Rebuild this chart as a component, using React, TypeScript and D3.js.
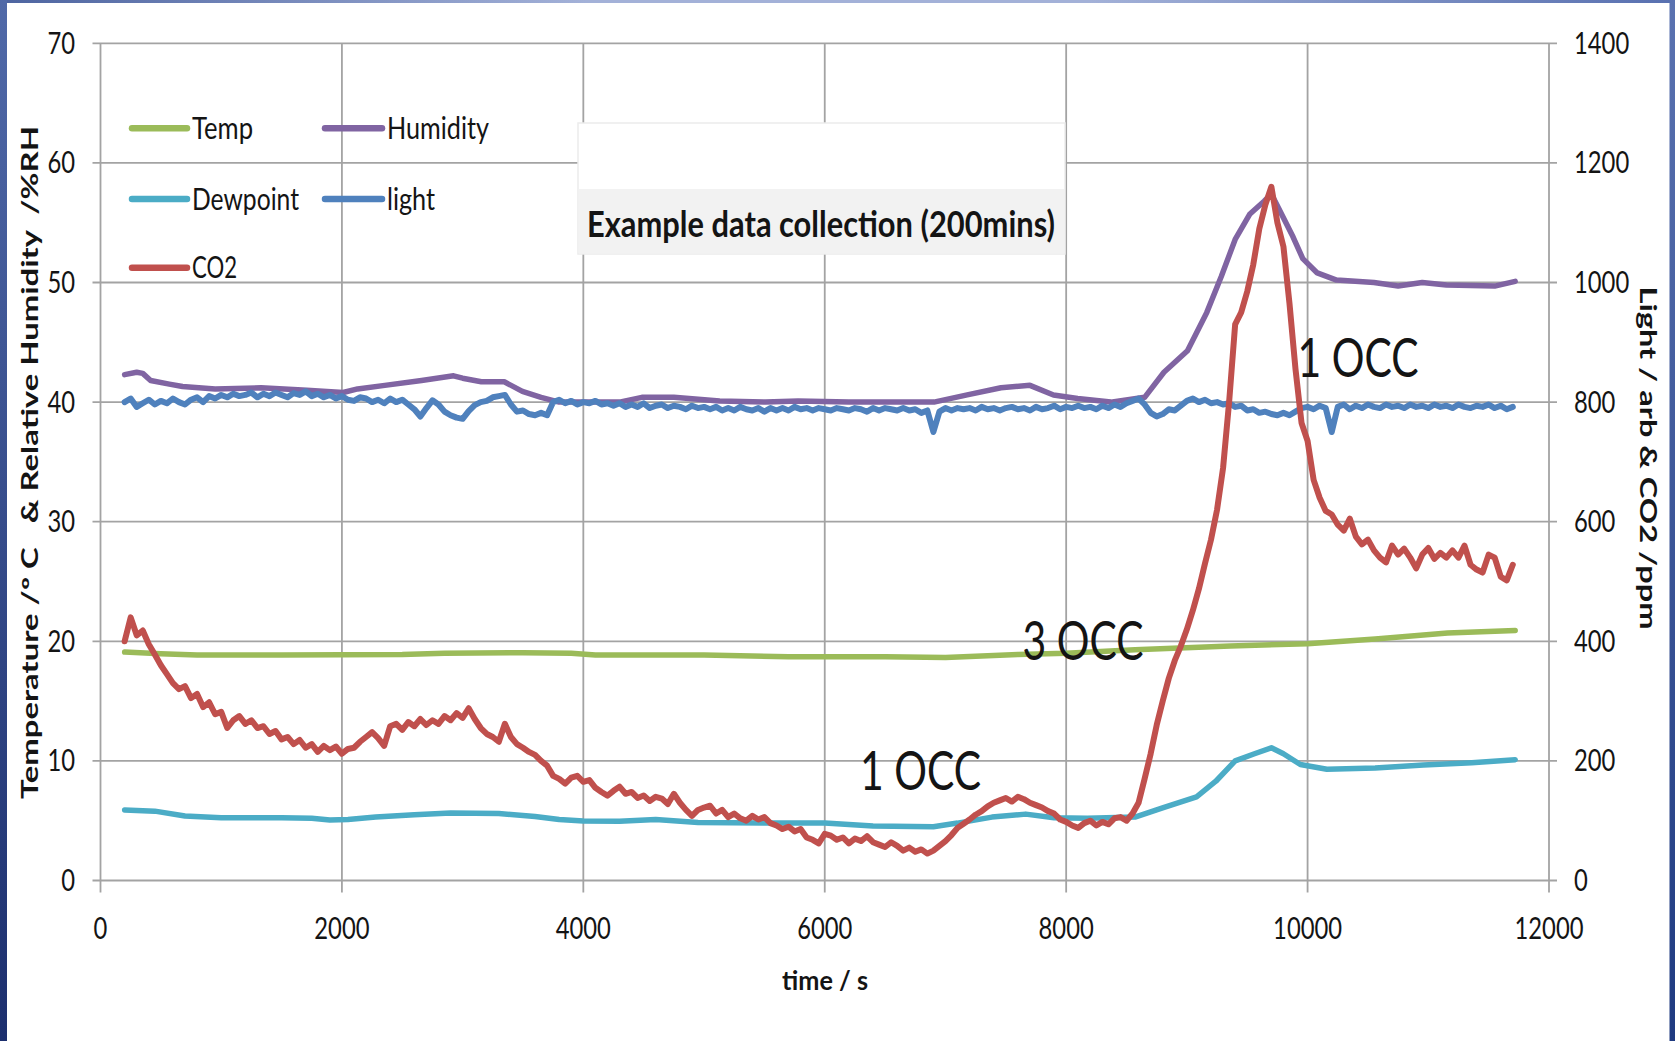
import React from 'react';
import * as d3 from 'd3';

// ---------- data ----------
const xTicks = [0, 2000, 4000, 6000, 8000, 10000, 12000];
const leftTicks = [0, 10, 20, 30, 40, 50, 60, 70];
const rightTicks = [0, 200, 400, 600, 800, 1000, 1200, 1400];

const tempTime = [200, 500, 800, 1500, 2500, 2850, 3500, 3900, 4100, 5000, 5700, 6500, 7000, 7600, 8000, 8570, 9360, 10000, 10560, 11160, 11720];
const tempValues = [19.1, 18.95, 18.85, 18.85, 18.9, 19.0, 19.05, 19.0, 18.85, 18.85, 18.7, 18.7, 18.65, 18.9, 19.0, 19.3, 19.6, 19.8, 20.2, 20.7, 20.9];

const dewTime = [200, 450, 700, 1000, 1500, 1750, 1900, 2050, 2280, 2600, 2900, 3300, 3600, 3800, 4000, 4300, 4600, 4950, 5700, 6000, 6400, 6900, 7100, 7385, 7665, 7900, 8175, 8570, 8805, 9080, 9240, 9400, 9560, 9700, 9800, 9940, 10160, 10560, 10960, 11360, 11720];
const dewValues = [5.9, 5.8, 5.4, 5.25, 5.25, 5.2, 5.05, 5.1, 5.3, 5.5, 5.65, 5.6, 5.35, 5.1, 4.98, 4.95, 5.1, 4.85, 4.8, 4.8, 4.55, 4.5, 4.8, 5.3, 5.55, 5.25, 5.2, 5.3, 6.1, 7.0, 8.3, 10.0, 10.6, 11.1, 10.6, 9.7, 9.3, 9.4, 9.65, 9.85, 10.1];

const humTime = [200, 300, 350, 415, 570, 680, 950, 1330, 1710, 2010, 2130, 2355, 2660, 2925, 3000, 3155, 3345, 3495, 3650, 3800, 4300, 4485, 4750, 5130, 5510, 5780, 6200, 6905, 7180, 7460, 7700, 7895, 8095, 8370, 8650, 8810, 9005, 9165, 9285, 9400, 9520, 9640, 9700, 9760, 9880, 9960, 10080, 10240, 10550, 10750, 10950, 11150, 11550, 11720];
const humValues = [42.3, 42.5, 42.4, 41.8, 41.5, 41.3, 41.1, 41.2, 41.0, 40.8, 41.1, 41.4, 41.8, 42.2, 42.0, 41.7, 41.7, 40.9, 40.4, 40.0, 40.0, 40.4, 40.4, 40.1, 40.0, 40.1, 40.0, 40.0, 40.6, 41.2, 41.4, 40.6, 40.3, 40.0, 40.4, 42.5, 44.3, 47.5, 50.5, 53.6, 55.7, 56.8, 57.4, 56.2, 53.8, 52.0, 50.8, 50.2, 50.0, 49.7, 50.0, 49.8, 49.7, 50.1];

// logger samples every 50 s starting at 200 s
const sampleStart = 200;
const sampleStep = 50;

const co2Values = [
  400, 440, 410, 418, 395, 378, 360, 345, 330, 320, 325, 305, 312, 290, 298, 278, 282, 255, 268, 275,
  262, 268, 255, 258, 245, 250, 236, 240, 228, 235, 222, 228, 215, 225, 218, 224, 212, 220, 222, 232,
  240, 248, 238, 225, 258, 262, 252, 265, 258, 270, 260, 268, 262, 275, 268, 280, 272, 288, 270, 255,
  245, 240, 232, 262, 240, 228, 222, 215, 210, 200, 192, 175, 170, 162, 172, 175, 165, 168, 155, 148,
  142, 150, 157, 145, 148, 138, 142, 133, 140, 137, 128, 145, 130, 118, 108, 118, 122, 125, 112, 118,
  106, 112, 104, 100, 108, 102, 106, 96, 92, 86, 90, 82, 86, 72, 68, 62, 78, 75, 68, 72,
  62, 70, 66, 74, 64, 60, 56, 64, 58, 50, 55, 48, 52, 45, 50, 58, 66, 76, 88, 95,
  102, 110, 116, 124, 130, 134, 138, 132, 140, 136, 130, 126, 122, 116, 112, 102, 98, 92, 88, 96,
  100, 92, 98, 94, 104, 106, 100, 112, 130, 170, 212, 260, 300, 338, 368, 392, 420, 452, 488, 530,
  570, 620, 690, 800, 930, 950, 985, 1030, 1090, 1130, 1160, 1100, 1060, 965, 855, 765, 735, 670, 640, 618,
  612, 595, 585, 605, 575, 562, 570, 552, 540, 532, 560, 545, 555, 540, 522, 545, 556, 538, 548, 540,
  552, 540, 560, 528, 520, 515, 545, 540, 508, 502, 528,
];

const lightValues = [
  800, 806, 792, 798, 804, 796, 802, 798, 806, 800, 796, 804, 808, 800, 810, 806, 812, 808, 814, 810,
  812, 816, 808, 814, 810, 816, 812, 808, 815, 812, 818, 810, 814, 808, 812, 806, 810, 804, 802, 808,
  806, 800, 804, 798, 806, 800, 804, 796, 788, 776, 790, 803, 796, 784, 778, 774, 772, 785, 795, 800,
  802, 808, 810, 812, 796, 784, 786, 780, 778, 782, 778, 800, 804, 798, 802, 796, 800, 798, 802, 796,
  798, 794, 798, 792, 796, 792, 798, 790, 794, 796, 790, 794, 792, 788, 794, 790, 792, 788, 792, 786,
  790, 786, 792, 788, 786, 790, 784, 790, 786, 790, 786, 792, 788, 790, 786, 790, 788, 786, 790, 788,
  786, 790, 788, 784, 790, 786, 790, 788, 786, 790, 786, 788, 782, 786, 750, 784, 790, 786, 790, 788,
  790, 786, 792, 788, 790, 786, 790, 792, 788, 790, 786, 792, 788, 790, 794, 788, 792, 790, 794, 790,
  792, 788, 794, 790, 796, 792, 798, 802, 806, 796, 782, 776, 780, 788, 786, 794, 802, 806, 800, 804,
  798, 800, 796, 798, 792, 794, 786, 788, 782, 784, 780, 778, 782, 778, 784, 790, 792, 788, 794, 790,
  750, 792, 796, 788, 794, 790, 796, 792, 790, 796, 792, 794, 790, 796, 792, 794, 790, 796, 792, 794,
  790, 796, 792, 790, 794, 792, 796, 790, 794, 788, 792,
];

const legendNames = ['Temp', 'Humidity', 'Dewpoint', 'light', 'CO2'];
const seriesColors = ['#9BBB59', '#8064A2', '#4BACC6', '#4F81BD', '#C0504D'];

const chartTitle = 'Example data collection (200mins)';
const xTitle = 'time / s';
const leftTitle = 'Temperature /º C   & Relative Humidity  /%RH';
const rightTitle = 'Light / arb & CO2 /ppm';
const annotations = [
  { text: '1 OCC', t: 9917, v: 842 },
  { text: '3 OCC', t: 7638, v: 369 },
  { text: '1 OCC', t: 6292, v: 151 },
];

// ---------- layout ----------
const W = 1675;
const H = 1041;
const L = 100.5, R = 1549, T = 43.3, B = 880.5;
const FONT = "Lato, 'Open Sans', 'DejaVu Sans', sans-serif";
const TXT = '#141414';

function Txt(props: any) {
  const { x, y, w, size, bold, anchor = 'start', transform, children } = props;
  return (
    <text
      x={x}
      y={y}
      fontSize={size}
      fontFamily={FONT}
      fontWeight={bold ? 700 : 400}
      textAnchor={anchor}
      textLength={w}
      lengthAdjust="spacingAndGlyphs"
      fill={TXT}
      transform={transform}
      style={{ whiteSpace: 'pre' }}
    >
      {children}
    </text>
  );
}

export default function App() {
  const x = d3.scaleLinear().domain([0, 12000]).range([L, R]);
  const yL = d3.scaleLinear().domain([0, 70]).range([B, T]);
  const yR = d3.scaleLinear().domain([0, 1400]).range([B, T]);

  const lineL = d3.line<[number, number]>().x(d => x(d[0])).y(d => yL(d[1]));
  const lineR = d3.line<[number, number]>().x(d => x(d[0])).y(d => yR(d[1]));

  const temp = tempTime.map((t, i) => [t, tempValues[i]] as [number, number]);
  const dew = dewTime.map((t, i) => [t, dewValues[i]] as [number, number]);
  const hum = humTime.map((t, i) => [t, humValues[i]] as [number, number]);
  const co2 = co2Values.map((v, i) => [sampleStart + i * sampleStep, v] as [number, number]);
  const light = lightValues.map((v, i) => [sampleStart + i * sampleStep, v] as [number, number]);

  const grid = '#a3a3a3';
  const digitW = 13.8;

  const legendPos = [
    { x1: 132, x2: 187, y: 128.3, tw: 61 },
    { x1: 325, x2: 382, y: 128.3, tw: 102 },
    { x1: 132, x2: 187, y: 199, tw: 107 },
    { x1: 325, x2: 382, y: 199, tw: 48 },
    { x1: 132, x2: 187, y: 267.7, tw: 45 },
  ];

  return (
    <svg width={W} height={H} style={{ position: 'absolute', left: 0, top: 0, background: '#fff' }}>
      <defs>
        <linearGradient id="gTop" x1="0" y1="0" x2="1" y2="0">
          <stop offset="0" stopColor="#4d64a0" />
          <stop offset="0.35" stopColor="#a3b1d8" />
          <stop offset="0.65" stopColor="#a3b1d8" />
          <stop offset="1" stopColor="#5870b0" />
        </linearGradient>
        <linearGradient id="gLeft" x1="0" y1="0" x2="0" y2="1">
          <stop offset="0" stopColor="#5069a8" />
          <stop offset="1" stopColor="#1c2f6e" />
        </linearGradient>
        <linearGradient id="gRight" x1="0" y1="0" x2="0" y2="1">
          <stop offset="0" stopColor="#5a72b0" />
          <stop offset="1" stopColor="#1f3a80" />
        </linearGradient>
      </defs>
      <rect x={0} y={0} width={W} height={H} fill="#fff" />

      {/* gridlines & ticks */}
      {leftTicks.map(v => (
        <line key={'h' + v} x1={L - 8} x2={R + 8} y1={yL(v)} y2={yL(v)} stroke={grid} strokeWidth={1.8} />
      ))}
      {xTicks.map(v => (
        <line key={'v' + v} x1={x(v)} x2={x(v)} y1={T} y2={B + 12} stroke={grid} strokeWidth={1.8} />
      ))}

      {/* tick labels */}
      {leftTicks.map(v => (
        <Txt key={'ll' + v} x={75} y={yL(v) + 10.5} w={String(v).length * digitW} size={30} anchor="end">{String(v)}</Txt>
      ))}
      {rightTicks.map(v => (
        <Txt key={'rl' + v} x={1574} y={yR(v) + 10.5} w={String(v).length * digitW} size={30}>{String(v)}</Txt>
      ))}
      {xTicks.map(v => (
        <Txt key={'xl' + v} x={x(v)} y={938.5} w={String(v).length * digitW} size={30} anchor="middle">{String(v)}</Txt>
      ))}

      {/* axis titles */}
      <Txt x={825} y={990} w={86} size={27} bold anchor="middle">{xTitle}</Txt>
      <Txt x={0} y={0} w={673} size={22} bold anchor="middle" transform="translate(38,462.5) rotate(-90)">{leftTitle}</Txt>
      <Txt x={0} y={0} w={343} size={22} bold anchor="middle" transform="translate(1640,458) rotate(90)">{rightTitle}</Txt>

      {/* title box */}
      <rect x={578} y={123} width={487} height={131} fill="#ffffff" stroke="#ececec" strokeWidth={1.5} />
      <rect x={578.75} y={189} width={485.5} height={64.25} fill="#f2f2f2" />
      <Txt x={587} y={236.5} w={468} size={36} bold>{chartTitle}</Txt>

      {/* legend */}
      {legendNames.map((name, i) => (
        <g key={name}>
          <line x1={legendPos[i].x1} x2={legendPos[i].x2} y1={legendPos[i].y} y2={legendPos[i].y}
            stroke={seriesColors[i]} strokeWidth={6.5} strokeLinecap="round" />
          <Txt x={legendPos[i].x2 + 5} y={legendPos[i].y + 10.5} w={legendPos[i].tw} size={30}>{name}</Txt>
        </g>
      ))}

      {/* series */}
      <path d={lineL(temp) || ''} fill="none" stroke={seriesColors[0]} strokeWidth={5.5} strokeLinejoin="round" strokeLinecap="round" />
      <path d={lineL(hum) || ''} fill="none" stroke={seriesColors[1]} strokeWidth={5.5} strokeLinejoin="round" strokeLinecap="round" />
      <path d={lineL(dew) || ''} fill="none" stroke={seriesColors[2]} strokeWidth={5.5} strokeLinejoin="round" strokeLinecap="round" />
      <path d={lineR(light) || ''} fill="none" stroke={seriesColors[3]} strokeWidth={6} strokeLinejoin="round" strokeLinecap="round" />
      <path d={lineR(co2) || ''} fill="none" stroke={seriesColors[4]} strokeWidth={6} strokeLinejoin="round" strokeLinecap="round" />

      {/* annotations */}
      {annotations.map((a, i) => (
        <Txt key={'a' + i} x={x(a.t)} y={yR(a.v)} w={121} size={55}>{a.text}</Txt>
      ))}

      {/* frame */}
      <rect x={0} y={0} width={W} height={3} fill="url(#gTop)" />
      <rect x={0} y={0} width={7} height={H} fill="url(#gLeft)" />
      <rect x={1669.5} y={0} width={5.5} height={H} fill="url(#gRight)" />
    </svg>
  );
}
